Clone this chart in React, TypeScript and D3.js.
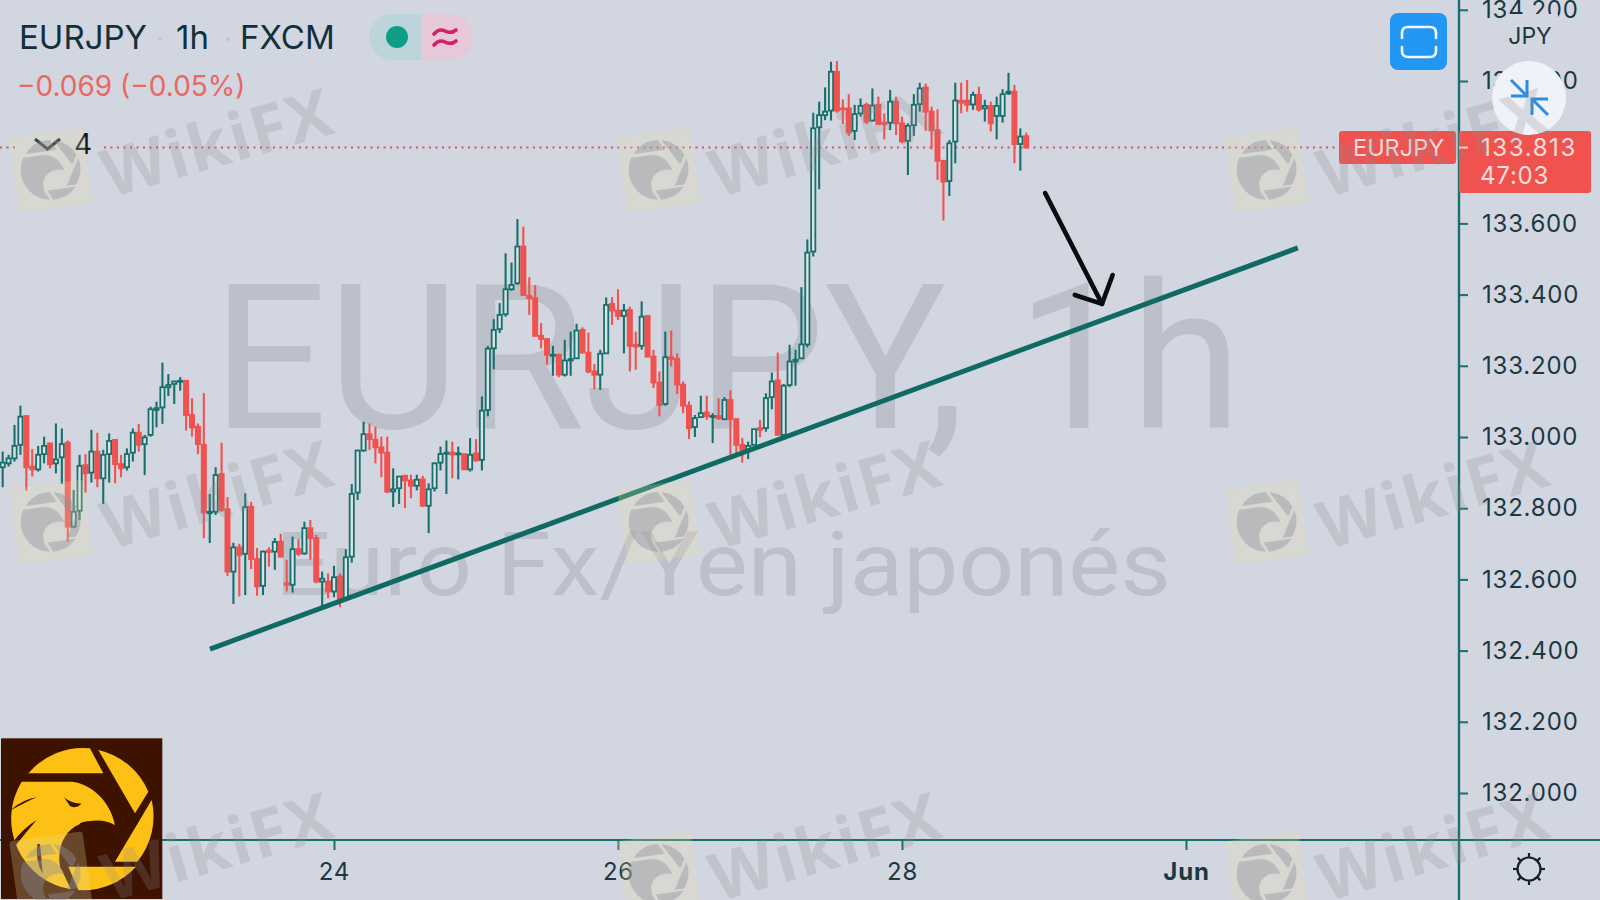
import React, { useEffect, useRef } from 'react';
import * as d3 from 'd3';

// hourly candles (oldest first)
const opens = [
  132.915, 132.926, 132.940, 132.978, 133.059, 132.917, 132.909, 132.952, 132.982, 132.926,
  132.943, 132.984, 132.748, 132.793, 132.921, 132.900, 132.959, 132.884, 132.952, 132.992,
  132.924, 132.915, 132.956, 133.012, 132.980, 133.006, 133.076, 133.083, 133.140, 133.149,
  133.155, 133.158, 133.062, 133.029, 132.978, 132.786, 132.790, 132.896, 132.797, 132.622,
  132.690, 132.672, 132.804, 132.657, 132.582, 132.681, 132.678, 132.706, 132.589, 132.585,
  132.685, 132.673, 132.744, 132.716, 132.594, 132.594, 132.566, 132.608, 132.547, 132.664,
  132.844, 132.962, 133.008, 132.992, 132.971, 132.956, 132.847, 132.856, 132.891, 132.878,
  132.863, 132.881, 132.807, 132.856, 132.928, 132.953, 132.956, 132.952, 132.952, 132.909,
  132.954, 132.936, 133.076, 133.249, 133.303, 133.345, 133.415, 133.432, 133.535, 133.396,
  133.390, 133.284, 133.275, 133.228, 133.231, 133.175, 133.215, 133.221, 133.301, 133.237,
  133.184, 133.175, 133.235, 133.374, 133.355, 133.340, 133.357, 133.259, 133.256, 133.340,
  133.226, 133.153, 133.093, 133.224, 133.219, 133.147, 133.088, 133.028, 133.056, 133.069,
  133.058, 133.059, 133.050, 133.104, 133.050, 132.978, 132.964, 132.978, 133.025, 133.025,
  133.112, 133.159, 133.006, 133.146, 133.212, 133.221, 133.260, 133.521, 133.870, 133.904,
  133.917, 134.026, 133.923, 133.923, 133.860, 133.909, 133.933, 133.889, 133.933, 133.883,
  133.883, 133.942, 133.881, 133.832, 133.876, 133.935, 133.982, 133.914, 133.862, 133.776,
  133.719, 133.830, 133.945, 133.945, 133.934, 133.961, 133.923, 133.930, 133.902, 133.902,
  133.965, 133.970, 133.823, 133.845,
];
const highs = [
  132.959, 132.950, 133.034, 133.088, 133.059, 132.966, 132.975, 133.001, 132.984, 133.038,
  133.024, 132.990, 132.851, 132.950, 132.952, 133.020, 133.012, 132.964, 133.010, 132.994,
  132.950, 132.968, 133.024, 133.037, 133.006, 133.085, 133.099, 133.209, 133.177, 133.158,
  133.168, 133.160, 133.109, 133.038, 133.123, 132.840, 132.915, 132.984, 132.831, 132.703,
  132.700, 132.842, 132.818, 132.688, 132.681, 132.690, 132.716, 132.728, 132.655, 132.720,
  132.713, 132.762, 132.767, 132.725, 132.622, 132.617, 132.638, 132.617, 132.685, 132.868,
  132.964, 133.043, 133.038, 133.029, 133.001, 133.001, 132.912, 132.889, 132.894, 132.894,
  132.894, 132.891, 132.870, 132.928, 132.973, 132.990, 132.987, 132.973, 132.952, 132.997,
  132.994, 133.114, 133.256, 133.331, 133.376, 133.516, 133.490, 133.612, 133.591, 133.449,
  133.427, 133.320, 133.278, 133.256, 133.234, 133.273, 133.296, 133.318, 133.308, 133.293,
  133.205, 133.245, 133.392, 133.393, 133.415, 133.374, 133.366, 133.296, 133.381, 133.340,
  133.245, 133.184, 133.296, 133.299, 133.235, 133.156, 133.100, 133.062, 133.116, 133.116,
  133.067, 133.109, 133.112, 133.131, 133.053, 132.997, 132.987, 133.022, 133.048, 133.123,
  133.181, 133.237, 133.149, 133.259, 133.245, 133.421, 133.555, 133.911, 133.942, 133.982,
  134.054, 134.056, 133.948, 133.963, 133.933, 133.951, 133.939, 133.979, 133.956, 133.909,
  133.975, 133.956, 133.900, 133.881, 133.963, 133.995, 133.993, 133.928, 133.920, 133.776,
  133.834, 133.995, 133.995, 134.003, 133.970, 133.984, 133.947, 133.942, 133.956, 133.977,
  134.023, 133.989, 133.867, 133.855,
];
const lows = [
  132.859, 132.917, 132.931, 132.950, 132.849, 132.889, 132.903, 132.926, 132.912, 132.898,
  132.868, 132.706, 132.744, 132.767, 132.844, 132.872, 132.859, 132.812, 132.872, 132.870,
  132.887, 132.906, 132.931, 132.959, 132.893, 133.001, 133.027, 133.037, 133.115, 133.093,
  133.130, 133.018, 133.001, 132.952, 132.716, 132.702, 132.781, 132.790, 132.610, 132.531,
  132.552, 132.556, 132.629, 132.554, 132.556, 132.636, 132.627, 132.662, 132.566, 132.563,
  132.666, 132.669, 132.655, 132.589, 132.524, 132.547, 132.550, 132.522, 132.542, 132.647,
  132.823, 132.959, 132.964, 132.926, 132.887, 132.842, 132.803, 132.812, 132.800, 132.828,
  132.850, 132.803, 132.730, 132.847, 132.906, 132.840, 132.884, 132.881, 132.908, 132.903,
  132.931, 132.906, 133.058, 133.190, 133.292, 133.338, 133.411, 133.427, 133.396, 133.343,
  133.282, 133.249, 133.203, 133.172, 133.168, 133.170, 133.172, 133.219, 133.235, 133.179,
  133.134, 133.132, 133.234, 133.315, 133.329, 133.235, 133.184, 133.189, 133.245, 133.224,
  133.137, 133.058, 133.088, 133.198, 133.121, 133.067, 132.994, 133.000, 133.053, 133.048,
  132.983, 133.048, 133.048, 132.950, 132.950, 132.928, 132.938, 132.978, 133.000, 133.015,
  133.078, 133.003, 133.003, 133.140, 133.144, 133.221, 133.252, 133.507, 133.696, 133.890,
  133.889, 133.911, 133.879, 133.846, 133.834, 133.900, 133.879, 133.886, 133.876, 133.836,
  133.862, 133.848, 133.825, 133.736, 133.846, 133.914, 133.860, 133.808, 133.722, 133.608,
  133.677, 133.769, 133.909, 133.914, 133.919, 133.914, 133.886, 133.858, 133.836, 133.883,
  133.961, 133.769, 133.748, 133.811,
];
const closes = [
  132.928, 132.940, 132.975, 133.057, 132.915, 132.909, 132.950, 132.975, 132.924, 132.937,
  132.980, 132.748, 132.790, 132.919, 132.898, 132.959, 132.884, 132.950, 132.989, 132.924,
  132.912, 132.952, 133.012, 132.978, 132.999, 133.078, 133.081, 133.140, 133.146, 133.156,
  133.158, 133.062, 133.027, 132.980, 132.788, 132.790, 132.893, 132.795, 132.622, 132.690,
  132.669, 132.803, 132.657, 132.580, 132.678, 132.677, 132.705, 132.664, 132.585, 132.685,
  132.672, 132.744, 132.716, 132.594, 132.602, 132.566, 132.606, 132.538, 132.662, 132.840,
  132.962, 133.008, 132.994, 132.971, 132.956, 132.847, 132.853, 132.889, 132.878, 132.863,
  132.880, 132.807, 132.853, 132.926, 132.952, 132.956, 132.951, 132.954, 132.909, 132.950,
  132.934, 133.074, 133.248, 133.301, 133.343, 133.415, 133.427, 133.535, 133.399, 133.390,
  133.284, 133.275, 133.231, 133.231, 133.175, 133.215, 133.219, 133.299, 133.237, 133.184,
  133.175, 133.234, 133.371, 133.355, 133.340, 133.355, 133.256, 133.254, 133.338, 133.226,
  133.153, 133.090, 133.224, 133.219, 133.147, 133.088, 133.025, 133.053, 133.067, 133.058,
  133.059, 133.053, 133.104, 133.050, 132.978, 132.964, 132.975, 133.022, 133.020, 133.109,
  133.156, 133.006, 133.144, 133.212, 133.217, 133.260, 133.518, 133.867, 133.904, 133.914,
  134.026, 133.917, 133.920, 133.855, 133.907, 133.930, 133.886, 133.931, 133.879, 133.879,
  133.942, 133.881, 133.830, 133.874, 133.933, 133.979, 133.914, 133.862, 133.776, 133.717,
  133.825, 133.945, 133.939, 133.933, 133.961, 133.920, 133.930, 133.881, 133.930, 133.963,
  133.970, 133.823, 133.844, 133.813,
];

const priceTicks = [132, 132.2, 132.4, 132.6, 132.8, 133, 133.2, 133.4, 133.6, 133.8, 134, 134.2];
const dateTickIndex = [56, 104, 152, 200];
const dateTickLabels = ['24', '26', '28', 'Jun'];
const lastPrice = 133.813;

// trendline and hand drawn arrow, as [candle index, price]
const trendLine: [number, number][] = [[35.04, 132.404], [218.9, 133.531]];
const arrowShaft: [number, number][] = [[176.2, 133.685], [185.8, 133.374]];
const arrowHead: [number, number][] = [[181.2, 133.399], [185.8, 133.374], [187.6, 133.455]];

// watermark grid
const markColumns = [51, 659, 1267];
const markRows = [170, 522, 874];

const BG = '#d2d6e1';
const TEAL = '#17706b';
const RED = '#f0524f';
const INK = '#1c3840';
const UI_FONT = 'Inter, Roboto, sans-serif';

// shapes of the eagle logo, drawn in a 490 unit box
const logoSegments = [
  'M85,160 A214,214 0 0 1 270,85 L310,160 Z',
  'M295,90 A214,214 0 0 1 445,215 L405,280 Z',
  'M455,240 A214,214 0 0 1 412,425 L345,425 Z',
  'M205,440 L408,440 A214,214 0 0 1 235,510 Z',
  'M65,185 L215,185 C270,190 330,240 345,315 C320,300 280,295 240,312 C195,330 170,380 180,440 L213,508 A214,214 0 0 1 65,185 Z',
];
const logoCuts = [
  'M35,268 Q70,238 110,232 Q80,245 38,268 Z',
  'M42,362 Q70,325 110,300 Q80,335 48,375 Z',
  'M112,372 Q105,420 128,462 Q125,420 120,372 Z',
  'M192,232 Q215,252 245,250 Q230,268 210,258 Z',
  'M240,310 Q280,290 310,335 Q280,312 240,318 Z',
];

export default function App() {
  const svgRef = useRef<SVGSVGElement>(null);

  useEffect(() => {
    if (!svgRef.current) return;
    const svg = d3.select(svgRef.current);
    svg.selectAll('*').remove();

    const x = d3.scaleLinear().domain([56, 200]).range([334, 1186]);
    const y = d3.scaleLinear().domain([132, 134.2]).range([793, 9.8]);
    const candleData = opens.map((o, i) => ({ i, o, h: highs[i], l: lows[i], c: closes[i] }));

    svg.append('rect').attr('width', 1600).attr('height', 900).attr('fill', BG);

    // big symbol watermark
    svg.append('text')
      .attr('x', 212).attr('y', 428)
      .attr('font-family', 'Roboto, sans-serif').attr('font-weight', 400)
      .attr('font-size', 203).attr('fill', '#bcc0cb')
      .attr('textLength', 1030).attr('lengthAdjust', 'spacingAndGlyphs')
      .text('EURJPY, 1h');
    svg.append('text')
      .attr('x', 275).attr('y', 595)
      .attr('font-family', 'Roboto, sans-serif').attr('font-weight', 400)
      .attr('font-size', 89).attr('fill', '#bcc0cb')
      .attr('textLength', 896).attr('lengthAdjust', 'spacingAndGlyphs')
      .text('Euro Fx/Yen japonés');

    // price line
    svg.append('line')
      .attr('x1', 0).attr('x2', 1340).attr('y1', y(lastPrice)).attr('y2', y(lastPrice))
      .attr('stroke', '#dd5060').attr('stroke-width', 2).attr('stroke-dasharray', '2 4.5');

    // candles
    const candles = svg.append('g');
    candles.selectAll('line')
      .data(candleData)
      .enter()
      .append('line')
      .attr('x1', d => x(d.i)).attr('x2', d => x(d.i))
      .attr('y1', d => y(d.h)).attr('y2', d => y(d.l))
      .attr('stroke', d => (d.c >= d.o ? TEAL : RED))
      .attr('stroke-width', 2.1);
    candles.selectAll('rect')
      .data(candleData)
      .enter()
      .append('rect')
      .attr('x', d => x(d.i) - 2.1)
      .attr('width', 4.2)
      .attr('y', d => y(Math.max(d.o, d.c)))
      .attr('height', d => Math.max(1, Math.abs(y(d.o) - y(d.c))))
      .attr('fill', d => (d.c >= d.o ? '#dbe3ea' : RED))
      .attr('stroke', d => (d.c >= d.o ? TEAL : RED))
      .attr('stroke-width', 1.8);

    // trendline + arrow
    const line = d3.line<[number, number]>().x(d => x(d[0])).y(d => y(d[1]));
    svg.append('path').attr('d', line(trendLine)).attr('fill', 'none')
      .attr('stroke', '#0e6a62').attr('stroke-width', 5);
    svg.append('path').attr('d', line(arrowShaft)).attr('fill', 'none')
      .attr('stroke', '#0b0b10').attr('stroke-width', 4.6).attr('stroke-linecap', 'round');
    svg.append('path').attr('d', line(arrowHead)).attr('fill', 'none')
      .attr('stroke', '#0b0b10').attr('stroke-width', 4.6).attr('stroke-linecap', 'round')
      .attr('stroke-linejoin', 'round');

    // price axis
    const yAxis = svg.append('g')
      .attr('transform', 'translate(1458,0)')
      .call(d3.axisRight(y).tickValues(priceTicks).tickFormat(d3.format('.3f')).tickSize(10).tickSizeOuter(0).tickPadding(14));
    yAxis.select('.domain').remove();
    yAxis.selectAll('.tick line').attr('stroke', TEAL).attr('stroke-width', 2);
    yAxis.selectAll('.tick text')
      .attr('fill', INK)
      .style('font-size', '24px')
      .style('letter-spacing', '0.8px')
      .style('font-family', UI_FONT);

    svg.append('line').attr('x1', 1459).attr('x2', 1459).attr('y1', 0).attr('y2', 900)
      .attr('stroke', TEAL).attr('stroke-width', 2.4);

    // date axis
    const xAxis = svg.append('g')
      .attr('transform', 'translate(0,840)')
      .call(d3.axisBottom(x).tickValues(dateTickIndex)
        .tickFormat((_, i) => dateTickLabels[i]).tickSize(10).tickSizeOuter(0).tickPadding(13));
    xAxis.select('.domain').remove();
    xAxis.selectAll('.tick line').attr('stroke', TEAL).attr('stroke-width', 2);
    xAxis.selectAll('.tick text')
      .attr('fill', INK)
      .style('font-size', '24px')
      .style('letter-spacing', '0.8px')
      .style('font-family', UI_FONT)
      .style('font-weight', (_, i) => (dateTickLabels[i] === 'Jun' ? 700 : 400));
    svg.append('line').attr('x1', 0).attr('x2', 1600).attr('y1', 840).attr('y2', 840)
      .attr('stroke', TEAL).attr('stroke-width', 2.2);

    // header
    const label = (t: string, px: number, py: number, size: number, fill: string) =>
      svg.append('text').attr('x', px).attr('y', py).attr('font-size', size)
        .attr('font-family', UI_FONT).attr('fill', fill).text(t);
    label('EURJPY', 19, 49, 33, '#12303a');
    label('1h', 176, 49, 33, '#12303a');
    label('FXCM', 240, 49, 33, '#12303a');
    svg.append('circle').attr('cx', 160).attr('cy', 39).attr('r', 2).attr('fill', '#bfc4cd');
    svg.append('circle').attr('cx', 228).attr('cy', 39).attr('r', 2).attr('fill', '#bfc4cd');
    label('−0.069 (−0.05%)', 17, 96, 28, '#ea6762');

    svg.append('path').attr('d', 'M421,14 H392 A23,23 0 0 0 392,60 H421 Z').attr('fill', '#bcd5db');
    svg.append('path').attr('d', 'M421,14 H450 A23,23 0 0 1 450,60 H421 Z').attr('fill', '#e5c9d8');
    svg.append('circle').attr('cx', 397).attr('cy', 37).attr('r', 11).attr('fill', '#0e9e88');
    svg.append('path')
      .attr('d', 'M434,34 Q439,28 445,31 T456,30 M434,45 Q439,39 445,42 T456,41')
      .attr('fill', 'none').attr('stroke', '#d81f66').attr('stroke-width', 3.6).attr('stroke-linecap', 'round');

    svg.append('rect').attr('x', 16).attr('y', 130).attr('width', 88).attr('height', 34).attr('fill', BG);
    svg.append('path').attr('d', 'M35,139 L47.5,149 L60,139').attr('fill', 'none')
      .attr('stroke', '#14181c').attr('stroke-width', 3);
    label('4', 74, 154, 28, '#14181c');

    // last price tags
    svg.append('rect').attr('x', 1339).attr('y', 131).attr('width', 117).attr('height', 33).attr('rx', 3).attr('fill', RED);
    svg.append('rect').attr('x', 1459).attr('y', 131).attr('width', 132).attr('height', 62).attr('rx', 3).attr('fill', RED);
    svg.append('line').attr('x1', 1459).attr('x2', 1468).attr('y1', y(lastPrice)).attr('y2', y(lastPrice))
      .attr('stroke', '#f7d9d3').attr('stroke-width', 2);
    label('EURJPY', 1353, 156, 23.5, '#f7dfda');
    label('133.813', 1481, 156, 24, '#f7dfda').style('letter-spacing', '1.6px');
    label('47:03', 1480, 184, 24, '#f7dfda').style('letter-spacing', '0.8px');

    // currency label sits on top of the clipped 134.200
    svg.append('rect').attr('x', 1506).attr('y', 14).attr('width', 52).attr('height', 36).attr('fill', BG);
    svg.append('text').attr('x', 1530).attr('y', 44).attr('text-anchor', 'middle')
      .attr('font-size', 23).attr('font-family', UI_FONT).attr('fill', INK).text('JPY');

    // fullscreen button
    svg.append('rect').attr('x', 1390).attr('y', 13).attr('width', 57).attr('height', 57).attr('rx', 8).attr('fill', '#2196f3');
    svg.append('path')
      .attr('d', 'M1402,38 V33 Q1402,27 1408,27 H1430 Q1436,27 1436,33 V38 M1402,47 V51 Q1402,57 1408,57 H1430 Q1436,57 1436,51 V47')
      .attr('fill', 'none').attr('stroke', '#f2f6fb').attr('stroke-width', 2.6).attr('stroke-linecap', 'round');

    // collapse button
    svg.append('circle').attr('cx', 1529).attr('cy', 98).attr('r', 37).attr('fill', '#eff2f8');
    svg.append('path')
      .attr('d', 'M1511,80 L1527,96 M1527,80 V96 H1511 M1548,115 L1532,99 M1532,115 V99 H1548')
      .attr('fill', 'none').attr('stroke', '#2a8ce2').attr('stroke-width', 3);

    // settings icon
    const gear = svg.append('g').attr('transform', 'translate(1529,869)');
    gear.append('circle').attr('r', 11.5).attr('fill', 'none').attr('stroke', '#14202a').attr('stroke-width', 2.2);
    d3.range(8).forEach(k => {
      const a = (k * Math.PI) / 4;
      gear.append('line')
        .attr('x1', 11.5 * Math.cos(a)).attr('y1', 11.5 * Math.sin(a))
        .attr('x2', 16 * Math.cos(a)).attr('y2', 16 * Math.sin(a))
        .attr('stroke', '#14202a').attr('stroke-width', 2.2);
    });

    // eagle logo, bottom left
    const logo = svg.append('g').attr('transform', 'translate(0,720) scale(0.3333)');
    logo.append('rect').attr('x', 3).attr('y', 55).attr('width', 484).attr('height', 482).attr('fill', '#3d1300');
    logo.selectAll('path.seg').data(logoSegments).enter().append('path')
      .attr('class', 'seg').attr('d', d => d).attr('fill', '#fdc116');
    logo.selectAll('path.cut').data(logoCuts).enter().append('path')
      .attr('class', 'cut').attr('d', d => d).attr('fill', '#3d1300');

    // WikiFX watermarks go over everything
    const marks = svg.append('g');
    markColumns.forEach(cx => {
      markRows.forEach(cy => {
        const m = marks.append('g').attr('transform', `translate(${cx},${cy})`);
        const badge = m.append('g').attr('transform', 'rotate(-8)');
        badge.append('rect').attr('x', -37).attr('y', -38).attr('width', 74).attr('height', 76).attr('rx', 3)
          .attr('fill', '#e6dfa8').attr('fill-opacity', 0.25);
        const eagle = badge.append('g').attr('transform', 'translate(-34.9,-41.7) scale(0.14)').attr('opacity', 0.4);
        eagle.selectAll('path').data(logoSegments).enter().append('path')
          .attr('d', d => d).attr('fill', '#8d8f9b');
        m.append('text')
          .attr('x', 166).attr('y', -30)
          .attr('transform', 'rotate(-16 166 -30)')
          .attr('text-anchor', 'middle').attr('dominant-baseline', 'central')
          .attr('font-family', '"Open Sans", sans-serif').attr('font-weight', 700)
          .attr('font-size', 66).attr('letter-spacing', 2)
          .attr('fill', '#8f8a90').attr('fill-opacity', 0.24)
          .text('WikiFX');
      });
    });
  }, []);

  return (
    <svg
      ref={svgRef}
      width={1600}
      height={900}
      viewBox="0 0 1600 900"
      style={{ position: 'absolute', left: 0, top: 0, display: 'block' }}
    />
  );
}
